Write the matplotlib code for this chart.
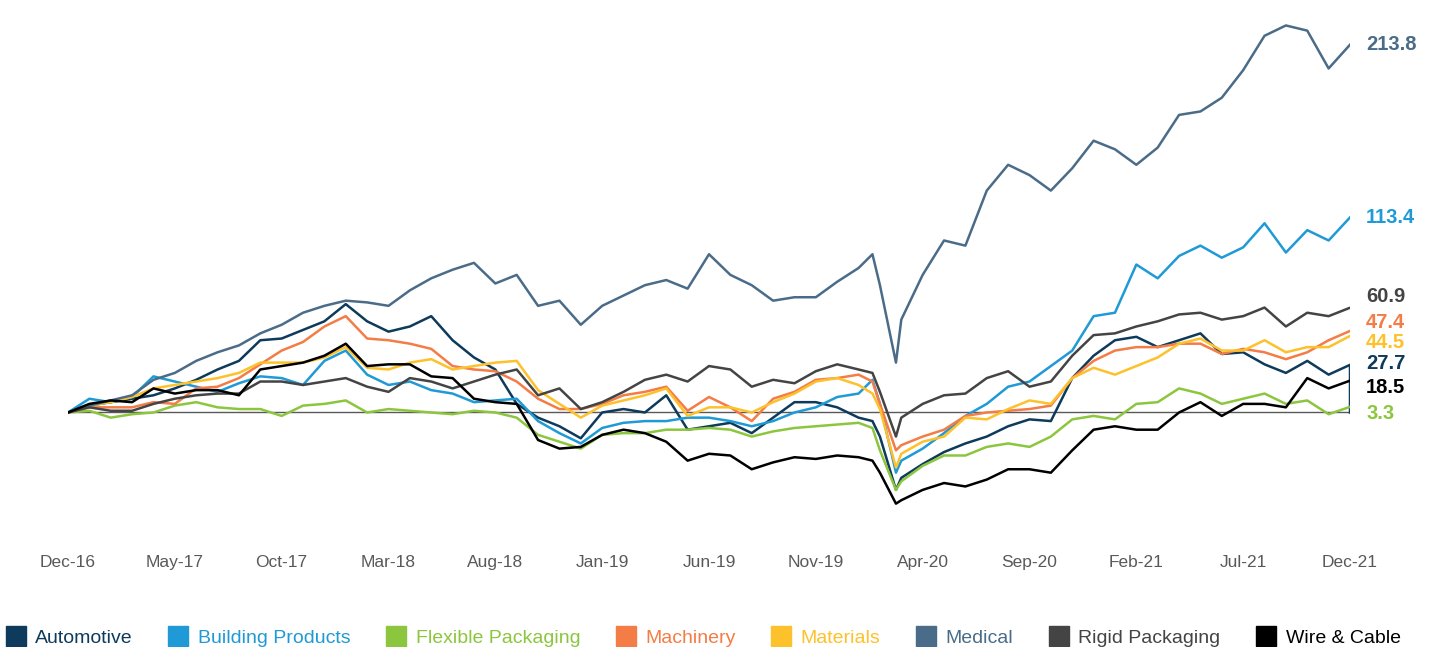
"""
Sector index performance, Dec-16 to Dec-21
------------------------------------------
Cumulative % change by end market, month-end readings.
"""

import matplotlib.pyplot as plt
from matplotlib.lines import Line2D

plt.rcParams["font.family"] = ["Liberation Sans", "DejaVu Sans"]

# -------------------------------
# Data (months since Dec-16, extra points around the Feb/Mar-20 crash)
# -------------------------------
months = list(range(0, 38)) + [37.65, 38, 38.75] + list(range(39, 61))

tick_months = list(range(0, 61, 5))
tick_labels = ["Dec-16", "May-17", "Oct-17", "Mar-18", "Aug-18", "Jan-19", "Jun-19",
               "Nov-19", "Apr-20", "Sep-20", "Feb-21", "Jul-21", "Dec-21"]

series_names = ["Automotive", "Building Products", "Flexible Packaging", "Machinery",
                "Materials", "Medical", "Rigid Packaging", "Wire & Cable"]

automotive = [0, 4, 6, 8, 10, 14, 19, 25, 30, 42, 43, 48, 53, 63, 53, 47, 50, 56, 42, 32,
              25, 5, -3, -8, -15, 0, 2, 0, 10, -10, -8, -6, -12, -3, 6, 6, 3, -3,
              -5, -14, -45,
              -38, -30, -23, -18, -14, -8, -4, -5, 20, 33, 42, 44, 38, 42, 46, 34, 35, 28, 23, 30, 22, 27.7]
automotive_last = 0.0  # series drops to zero on the final day

building = [0, 8, 6, 9, 21, 18, 15, 12, 17, 21, 20, 16, 30, 36, 22, 16, 18, 13, 11, 6,
            7, 8, -5, -12, -18, -9, -6, -5, -5, -3, -3, -5, -8, -5, 0, 3, 9, 11,
            19, 5, -35,
            -28, -21, -12, -2, 5, 15, 18, 27, 36, 56, 58, 86, 78, 91, 97, 90, 96, 110, 93, 106, 100, 113.4]

flexible = [0, 1, -3, -1, 0, 4, 6, 3, 2, 2, -2, 4, 5, 7, 0, 2, 1, 0, -1, 1,
            0, -3, -13, -17, -21, -13, -12, -12, -10, -10, -9, -10, -14, -11, -9, -8, -7, -6,
            -9, -22, -45,
            -40, -31, -25, -25, -20, -18, -20, -14, -4, -2, -4, 5, 6, 14, 11, 5, 8, 11, 5, 7, -1, 3.3]

machinery = [0, 3, 3, 3, 6, 5, 14, 15, 20, 28, 36, 41, 50, 56, 43, 42, 40, 37, 27, 25,
             24, 18, 8, 2, 2, 5, 10, 12, 15, 1, 9, 3, -5, 8, 12, 19, 20, 22,
             18, 5, -22,
             -19, -14, -10, -2, 0, 1, 2, 4, 20, 30, 36, 38, 38, 40, 40, 34, 37, 35, 31, 35, 42, 47.4]

materials = [0, 4, 6, 9, 14, 16, 18, 20, 23, 29, 29, 29, 32, 38, 26, 25, 29, 31, 25, 27,
             29, 30, 13, 5, -3, 4, 7, 10, 14, -2, 3, 3, 0, 6, 11, 18, 20, 16,
             11, 2, -32,
             -24, -17, -14, -3, -4, 2, 7, 5, 20, 26, 22, 27, 32, 40, 43, 36, 36, 42, 35, 38, 38, 44.5]

medical = [0, 4, 7, 10, 19, 23, 30, 35, 39, 46, 51, 58, 62, 65, 64, 62, 71, 78, 83, 87,
           75, 80, 62, 65, 51, 62, 68, 74, 77, 72, 92, 80, 74, 65, 67, 67, 76, 84,
           92, 74, 29,
           54, 80, 100, 97, 129, 144, 138, 129, 142, 158, 153, 144, 154, 173, 175, 183, 199, 219, 225, 222, 200, 213.8]

rigid = [0, 3, 1, 1, 5, 8, 10, 11, 11, 18, 18, 16, 18, 20, 15, 12, 20, 18, 14, 18,
         22, 25, 10, 14, 2, 6, 12, 19, 22, 18, 27, 25, 15, 19, 17, 24, 28, 25,
         23, 12, -14,
         -3, 5, 10, 11, 20, 24, 15, 18, 33, 45, 46, 50, 53, 57, 58, 54, 56, 61, 50, 58, 56, 60.9]

wire = [0, 5, 7, 6, 14, 11, 13, 13, 10, 25, 27, 29, 33, 40, 27, 28, 28, 21, 20, 8,
        6, 5, -16, -21, -20, -13, -10, -12, -17, -28, -24, -25, -33, -29, -26, -27, -25, -26,
        -28, -35, -53,
        -51, -45, -41, -43, -39, -33, -33, -35, -22, -10, -8, -10, -10, 0, 6, -2, 5, 5, 3, 20, 14, 18.5]

end_labels = ["27.7", "113.4", "3.3", "47.4", "44.5", "213.8", "60.9", "18.5"]

colors = ["#0e3a5b", "#1f9ad6", "#8cc63e", "#f47c46", "#fdc12b", "#4a6c88", "#444444", "#000000"]

# label heights nudged apart so the end labels do not collide
label_y = [28.2, 113.4, -0.3, 52.6, 40.4, 213.8, 67.7, 14.8]


def main():
    all_values = [automotive, building, flexible, machinery, materials, medical, rigid, wire]
    for vals in all_values:
        assert len(vals) == len(months)

    fig = plt.figure(figsize=(14.3, 6.47), dpi=100)
    ax = fig.add_axes([68 / 1430, 1 - 520 / 647, 1282 / 1430, 520 / 647])

    # zero line
    ax.plot([months[0], months[-1]], [0, 0], color="#595959", lw=1.0, zorder=1)

    # -------------------------------
    # Lines
    # -------------------------------
    for name, vals, c in zip(series_names, all_values, colors):
        x = list(months)
        y = list(vals)
        if name == "Automotive":
            x.append(months[-1])
            y.append(automotive_last)
        ax.plot(x, y, color=c, lw=1.8, zorder=2, solid_joinstyle="round")

    # end-of-series labels
    for txt, ly, c in zip(end_labels, label_y, colors):
        ax.text(60.75, ly, txt, color=c, fontsize=14.5, fontweight="bold",
                ha="left", va="center", clip_on=False)

    ax.set_xlim(0, 60)
    ax.set_ylim(-62.5, 239.8)
    ax.set_xticks(tick_months)
    ax.set_xticklabels(tick_labels, fontsize=12.5, color="#595959")
    ax.tick_params(axis="x", length=0, pad=25)
    ax.set_yticks([])
    for s in ax.spines.values():
        s.set_visible(False)

    # -------------------------------
    # Legend
    # -------------------------------
    handles = [Line2D([], [], marker="s", linestyle="", markersize=14,
                      markerfacecolor=c, markeredgecolor=c) for c in colors]
    fig.legend(handles, series_names, loc="center left", bbox_to_anchor=(0.0, 1 - 638 / 647),
               ncol=8, frameon=False, fontsize=14, handlelength=1.0, handletextpad=0.5,
               columnspacing=1.85, borderpad=0, borderaxespad=0.3, labelcolor=colors)

    fig.savefig("out.png", dpi=100)
    plt.close(fig)


if __name__ == "__main__":
    main()
